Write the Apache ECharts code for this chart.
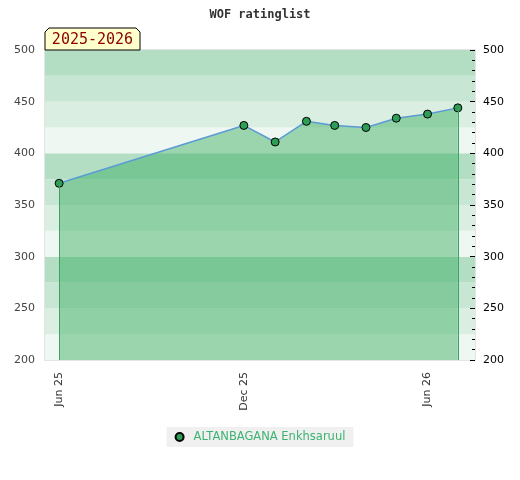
<!DOCTYPE html>
<html>
<head>
<meta charset="utf-8">
<script src="https://cdn.jsdelivr.net/npm/echarts@6/dist/echarts.min.js"></script>
<style>
html,body{margin:0;padding:0;background:#fff;}
#chart{width:520px;height:480px;}
</style>
</head>
<body>
<div id="chart"></div>
<script>
// ---- data ----
const titleText = 'WOF ratinglist';
const seasonLabel = '2025-2026';
const playerName = 'ALTANBAGANA Enkhsaruul';
const dates = ['2025-06-01','2025-12-01','2026-01-01','2026-02-01','2026-03-01','2026-04-01','2026-05-01','2026-06-01','2026-07-01'];
const ratings = [371, 427, 411, 431, 427, 425, 434, 438, 444];
const xTickDates = ['2025-06-01','2025-12-01','2026-06-01'];
const xRange = ['2025-05-18','2026-07-18'];
const yMin = 200, yMax = 500, yStep = 50, bandStep = 25;
const monthNames = ['Jan','Feb','Mar','Apr','May','Jun','Jul','Aug','Sep','Oct','Nov','Dec'];

function ts(s){ const p = s.split('-').map(Number); return new Date(p[0], p[1]-1, p[2]).getTime(); }
const points = dates.map((d,i)=>[ts(d), ratings[i]]);
const first = points[0], last = points[points.length-1];

const chart = echarts.init(document.getElementById('chart'));
chart.setOption({
  animation:false,
  backgroundColor:'#fff',
  title:{
    text:titleText, left:'center', top:4,
    textStyle:{fontFamily:'DejaVu Sans Mono', fontWeight:'bold', fontSize:12, color:'#333'}
  },
  grid:{left:45, right:45, top:50, bottom:120, show:true, borderColor:'#dcdcdc', borderWidth:1.5, backgroundColor:'transparent'},
  legend:{
    top:427, left:'center', backgroundColor:'#f0f0f0', padding:[4,8,4,8],
    icon:'circle', itemWidth:8, itemHeight:8, itemGap:10,
    textStyle:{color:'#3cb371', fontSize:11.5, fontFamily:'DejaVu Sans', padding:[0,0,0,5]},
    data:[playerName]
  },
  xAxis:{
    type:'value', min:ts(xRange[0]), max:ts(xRange[1]),
    axisLine:{show:false}, axisTick:{show:false}, splitLine:{show:false},
    axisLabel:{
      customValues:xTickDates.map(ts), rotate:90, color:'#333', fontSize:11, fontFamily:'DejaVu Sans', margin:12,
      formatter:function(v){ const d=new Date(v); return monthNames[d.getMonth()]+' '+String(d.getFullYear()).slice(2); }
    }
  },
  yAxis:[
    {type:'value', min:yMin, max:yMax, interval:yStep, position:'left',
     axisLine:{show:false}, axisTick:{show:false}, splitLine:{show:false},
     axisLabel:{color:'#444', fontSize:11, fontFamily:'DejaVu Sans', margin:10}},
    {type:'value', min:yMin, max:yMax, interval:yStep, position:'right',
     axisLine:{show:false}, splitLine:{show:false},
     axisTick:{show:true, inside:true, length:5, lineStyle:{color:'#000'}},
     minorTick:{show:true, splitNumber:5, length:3, lineStyle:{color:'#000'}},
     axisLabel:{color:'#000', fontSize:11, fontFamily:'DejaVu Sans', margin:8}},
    {type:'value', min:yMin, max:yMax, interval:bandStep, position:'left', offset:0,
     axisLine:{show:false}, axisTick:{show:false}, axisLabel:{show:false}, splitLine:{show:false},
     splitArea:{show:true, areaStyle:{color:['#eef7f1','#dbeee2','#c8e6d4','#b3dec4']}}}
  ],
  graphic:[
    {type:'polygon', z:100,
     shape:{points:[[45,50],[45,32],[49,28],[136,28],[140,32],[140,50]]},
     style:{fill:'#ffffcc', stroke:'#000', lineWidth:1}},
    {type:'text', z:101, x:92.5, y:40,
     style:{text:seasonLabel, fill:'#8b0000', font:'15px "DejaVu Sans Mono"', align:'center', verticalAlign:'middle'}}
  ],
  series:[{
    name:playerName, type:'line', yAxisIndex:0, data:points,
    symbol:'circle', symbolSize:8,
    itemStyle:{color:'#2e9e56', borderColor:'#000', borderWidth:1},
    lineStyle:{color:'#5b9bd5', width:1.5},
    areaStyle:{color:'rgb(50,170,90)', opacity:0.45, origin:'start'},
    markLine:{
      silent:true, symbol:['none','none'], label:{show:false},
      lineStyle:{color:'#3aa35f', width:1, type:'solid'},
      data:[
        [{coord:[first[0], yMin]},{coord:[first[0], first[1]]}],
        [{coord:[last[0], yMin]},{coord:[last[0], last[1]]}]
      ]
    },
    z:3
  }]
});
</script>
</body>
</html>
